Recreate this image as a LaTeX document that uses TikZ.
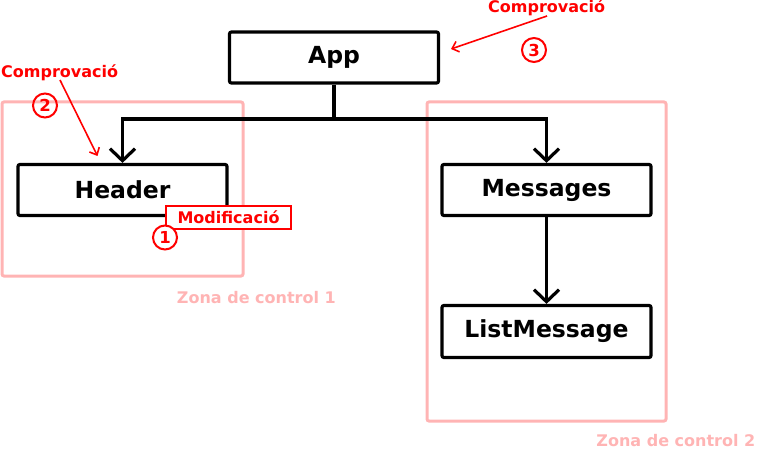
\documentclass[tikz,border=0pt]{standalone}
\usepackage{fontspec}
\setmainfont{DejaVu Sans}
\usetikzlibrary{arrows.meta}
\definecolor{zonepink}{RGB}{255,180,180}
\definecolor{alertred}{RGB}{255,0,0}
\tikzset{
  compbox/.style={draw=black, line width=3.2pt, rounded corners=2pt, fill=white, inner sep=0pt,
    minimum width=209pt, font=\fontsize{23.5}{28}\selectfont\bfseries},
  zonebox/.style={draw=zonepink, line width=3pt, rounded corners=2pt},
  zonelabel/.style={text=zonepink, inner sep=0pt, font=\fontsize{16}{19}\selectfont\bfseries},
  redlabel/.style={text=alertred, inner sep=0pt, font=\fontsize{16}{19}\selectfont\bfseries},
  redcircle/.style={draw=alertred, line width=2pt, circle, minimum size=24pt, inner sep=0pt,
    text=alertred, font=\fontsize{16.5}{19}\selectfont\bfseries},
  tree/.style={draw=black, line width=3.2pt},
  treearrow/.style={tree, -{Straight Barb[length=12pt,width=25pt,line width=3.2pt]}},
  redarrow/.style={draw=alertred, line width=1.6pt, -{Straight Barb[length=6pt,width=11pt,line width=1.6pt]}},
  modbox/.style={draw=alertred, line width=1.6pt, fill=white, inner sep=0pt, minimum width=125pt,
    minimum height=23pt, text=alertred, font=\fontsize{16}{19}\selectfont\bfseries}
}
\begin{document}
\begin{tikzpicture}[x=1pt,y=-1pt]
\useasboundingbox (0,0) rectangle (757,449);
% zones
\draw[zonebox] (2,102) rectangle (243,276);
\draw[zonebox] (427,102) rectangle (666,421);
\node[zonelabel, anchor=east] (z1) at (336,298) {Zona de control 1};
\node[zonelabel, anchor=east] (z2) at (755.5,440.5) {Zona de control 2};
% components
\node[compbox, minimum height=51pt] (app) at (334,57.5) {App};
\node[compbox, minimum height=51pt] (header) at (122.5,190) {Header};
\node[compbox, minimum height=51pt] (messages) at (546.5,190) {Messages};
\node[compbox, minimum height=52pt] (list) at (546.5,331.5) {ListMessage};
% connectors
\coordinate (j) at (334,119);
\draw[tree] (app.south) -- (j);
\draw[treearrow] (j) -| (header.north);
\draw[treearrow] (j) -| (messages.north);
\draw[treearrow] (messages.south) -- (list.north);
% modification
\node[modbox] (mod) at (228.5,217.5) {Modificació};
\node[redcircle, fill=white] (c1) at (165,237.5) {1};
% check 2
\node[redlabel, anchor=west] (comp2) at (1,73) {Comprovació};
\node[redcircle] (c2) at (45,105.5) {2};
\coordinate (t2) at (97.5,156);
\draw[redarrow] (60,80) -- (t2);
% check 3
\node[redlabel, anchor=west] (comp3) at (488,7.5) {Comprovació};
\node[redcircle] (c3) at (534,50) {3};
\coordinate (s3) at (547,16);
\coordinate (t3) at (451,49);
\draw[redarrow] (s3) -- (t3);
\end{tikzpicture}
\end{document}
